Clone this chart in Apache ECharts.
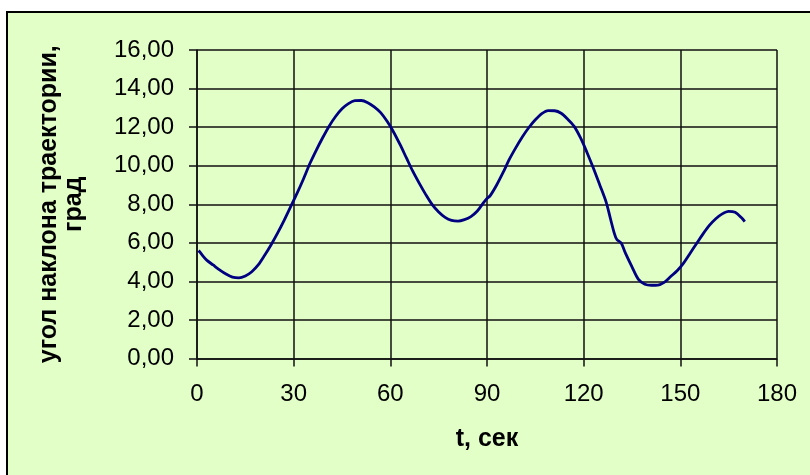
<!DOCTYPE html>
<html>
<head>
<meta charset="utf-8">
<script src="https://cdn.jsdelivr.net/npm/echarts@6/dist/echarts.min.js"></script>
<style>
  html, body { margin: 0; padding: 0; background: #ffffff; }
  #chart { width: 810px; height: 475px; }
</style>
</head>
<body>
<div id="chart"></div>
<script>
// time, seconds
var times = [
  0.5, 1, 2, 3, 5, 7, 9, 11, 13, 15, 17, 19, 21, 23, 25, 27, 29, 31, 33, 35,
  37, 39, 41, 43, 45, 47, 49, 51, 53, 55, 57, 59, 61, 63, 65, 67, 69, 71, 73, 75,
  77, 79, 81, 83, 85, 87, 89, 90, 91, 93, 95, 97, 99, 101, 103, 105, 107, 109, 111, 113,
  115, 117, 119, 121, 123, 125, 127, 128.3, 129.5, 130.3, 131.6, 133, 135, 137, 139, 141, 143, 145, 147, 149,
  151, 153, 155, 157, 159, 161, 163, 165, 167, 169, 170
];
// trajectory slope angle, degrees
var angles = [
  5.6, 5.5, 5.28, 5.1, 4.85, 4.6, 4.38, 4.22, 4.18, 4.28, 4.5, 4.85, 5.35, 5.9, 6.5, 7.15, 7.85, 8.55, 9.3, 10.1,
  10.8, 11.45, 12.05, 12.55, 12.95, 13.22, 13.37, 13.38, 13.27, 13.05, 12.75, 12.3, 11.75, 11.1, 10.4, 9.7, 9.08, 8.5, 7.98, 7.6,
  7.32, 7.16, 7.12, 7.2, 7.36, 7.65, 8.1, 8.3, 8.45, 9.0, 9.65, 10.35, 10.95, 11.5, 11.98, 12.38, 12.7, 12.86, 12.85, 12.72,
  12.42, 12.05, 11.45, 10.7, 9.88, 9.0, 8.1, 7.26, 6.5, 6.17, 6.0, 5.45, 4.75, 4.1, 3.85, 3.8, 3.81, 3.95, 4.25, 4.55,
  4.95, 5.45, 5.95, 6.45, 6.9, 7.25, 7.5, 7.63, 7.58, 7.3, 7.1
];
var xTicks = { min: 0, max: 180, step: 30 };
var yTicks = { min: 0, max: 16, step: 2 };

var points = times.map(function (t, i) { return [t, angles[i]]; });

var FONT = '"Liberation Sans", Arial, sans-serif';
var LINE = '#111111';

var chart = echarts.init(document.getElementById('chart'), null, { renderer: 'canvas' });
chart.setOption({
  animation: false,
  backgroundColor: 'transparent',
  graphic: [{
    type: 'rect',
    z: -10,
    silent: true,
    shape: { x: 7, y: 12, width: 900, height: 600 },
    style: { fill: '#E2FFC8', stroke: '#000000', lineWidth: 2 }
  }],
  grid: { left: 197, right: 33, top: 50, bottom: 116.5, containLabel: false },
  xAxis: {
    type: 'value',
    min: xTicks.min, max: xTicks.max, interval: xTicks.step,
    name: 't, сек',
    nameLocation: 'middle',
    nameGap: 68,
    nameTextStyle: { fontFamily: FONT, fontSize: 25, fontWeight: 'bold', color: '#000' },
    axisLine: { show: true, lineStyle: { color: LINE, width: 1.5 } },
    axisTick: { show: true, length: 8, lineStyle: { color: LINE, width: 1.5 } },
    axisLabel: { margin: 24, fontFamily: FONT, fontSize: 24, color: '#000' },
    splitLine: { show: true, lineStyle: { color: LINE, width: 1.5 } }
  },
  yAxis: {
    type: 'value',
    min: yTicks.min, max: yTicks.max, interval: yTicks.step,
    name: 'угол наклона траектории,\nград',
    nameLocation: 'middle',
    nameGap: 110,
    nameRotate: 90,
    nameTextStyle: { fontFamily: FONT, fontSize: 25, fontWeight: 'bold', color: '#000', lineHeight: 25 },
    axisLine: { show: true, lineStyle: { color: LINE, width: 1.5 } },
    axisTick: { show: true, length: 8, lineStyle: { color: LINE, width: 1.5 } },
    axisLabel: {
      margin: 23, fontFamily: FONT, fontSize: 24, color: '#000',
      formatter: function (v) { return v.toFixed(2).replace('.', ','); }
    },
    splitLine: { show: true, lineStyle: { color: LINE, width: 1.5 } }
  },
  series: [{
    type: 'line',
    data: points,
    showSymbol: false,
    smooth: 0.3,
    lineStyle: { color: '#000080', width: 2.8 },
    itemStyle: { color: '#000080' }
  }]
});
</script>
</body>
</html>
